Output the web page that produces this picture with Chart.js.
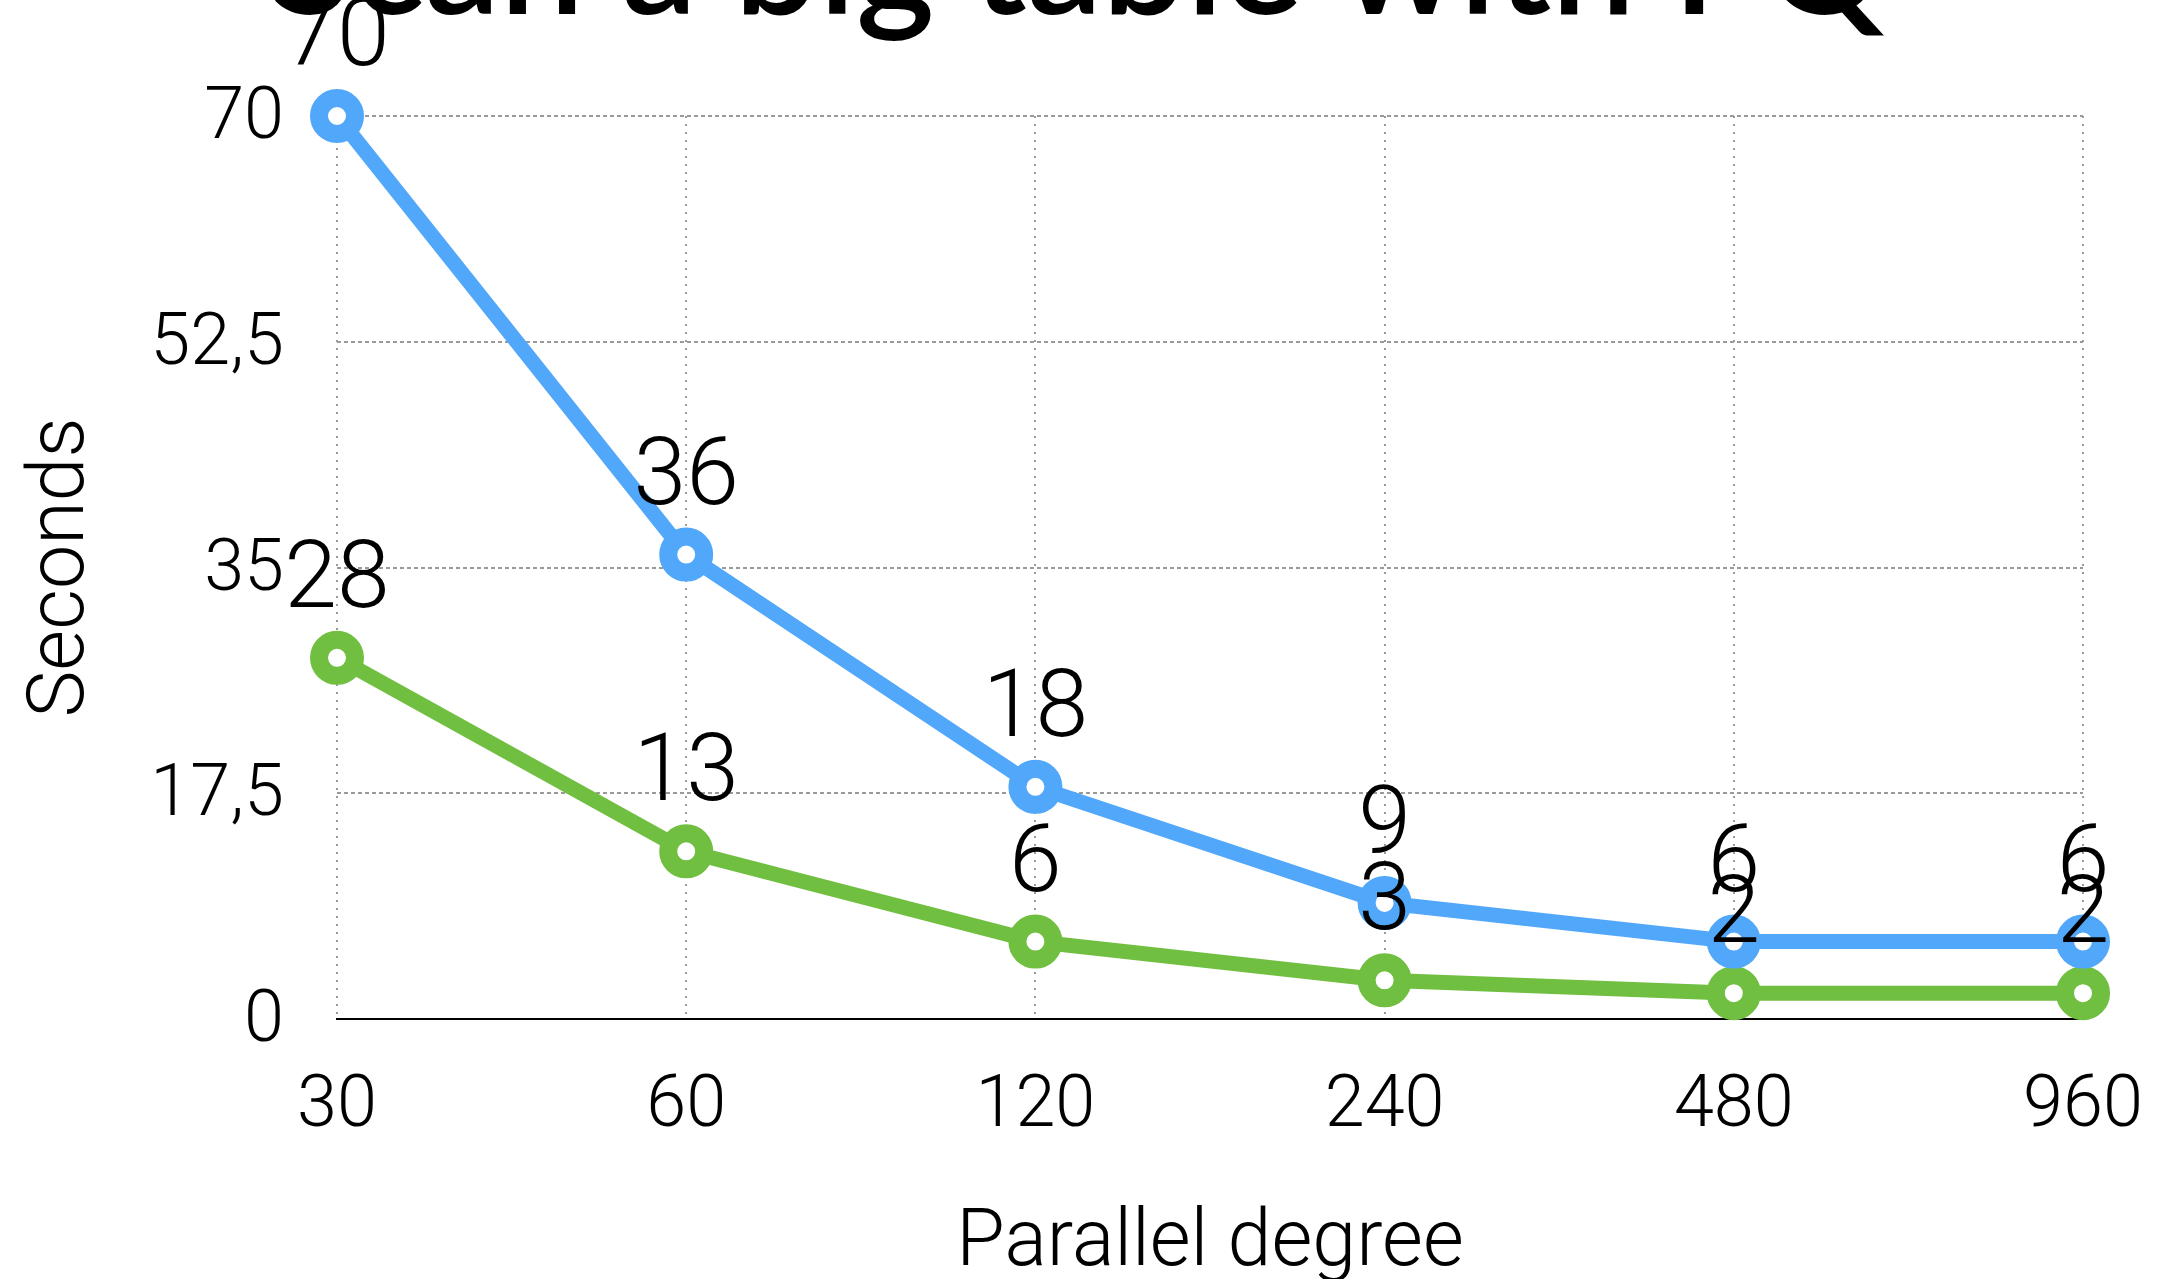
<!DOCTYPE html>
<html>
<head>
<meta charset="utf-8">
<script src="https://cdn.jsdelivr.net/npm/chart.js@4/dist/chart.umd.min.js"></script>
<style>
  html, body { margin: 0; padding: 0; background: #ffffff; }
  #wrap { width: 2163px; height: 1279px; position: relative; overflow: hidden; }
</style>
</head>
<body>
<div id="wrap"><canvas id="chart" width="2163" height="1279"></canvas></div>
<script>
// Parallel degree on the x axis, elapsed seconds on the y axis
const degrees = ['30', '60', '120', '240', '480', '960'];
const secondsBlue = [70, 36, 18, 9, 6, 6];
const secondsGreen = [28, 13, 6, 3, 2, 2];
const yTickValues = [0, 17.5, 35, 52.5, 70];
const chartTitle = 'Scan a big table with PQ';
const xAxisTitle = 'Parallel degree';
const yAxisTitle = 'Seconds';

const BLUE = '#51A7F9';
const GREEN = '#70BF41';
const GRID = '#9a9a9a';
const FONT = 'Roboto';

// Value printed above each point
const valueLabels = {
  id: 'valueLabels',
  afterDatasetsDraw(chart) {
    const ctx = chart.ctx;
    ctx.save();
    ctx.font = '300 95px ' + FONT;
    ctx.fillStyle = '#000000';
    ctx.textAlign = 'center';
    ctx.textBaseline = 'alphabetic';
    chart.data.datasets.forEach((ds, di) => {
      const meta = chart.getDatasetMeta(di);
      meta.data.forEach((pt, i) => {
        ctx.fillText(String(ds.data[i]), pt.x, pt.y - 51);
      });
    });
    ctx.restore();
  }
};

// Slide title, running off the top edge
const headline = {
  id: 'headline',
  afterDraw(chart) {
    const ctx = chart.ctx;
    ctx.save();
    ctx.font = '600 150px Lato';
    ctx.fillStyle = '#000000';
    ctx.textAlign = 'center';
    ctx.textBaseline = 'alphabetic';
    ctx.fillText(chartTitle, 1078, 14);
    ctx.restore();
  }
};

new Chart(document.getElementById('chart'), {
  type: 'line',
  data: {
    labels: degrees,
    datasets: [
      {
        data: secondsBlue,
        borderColor: BLUE,
        borderWidth: 15,
        pointRadius: 18,
        pointBorderWidth: 18,
        pointBackgroundColor: '#ffffff',
        pointBorderColor: BLUE,
        tension: 0,
        clip: false
      },
      {
        data: secondsGreen,
        borderColor: GREEN,
        borderWidth: 15,
        pointRadius: 18,
        pointBorderWidth: 18,
        pointBackgroundColor: '#ffffff',
        pointBorderColor: GREEN,
        tension: 0,
        clip: false
      }
    ]
  },
  options: {
    responsive: false,
    animation: false,
    devicePixelRatio: 1,
    layout: { padding: { left: 0, right: 80, top: 116, bottom: 0 } },
    plugins: {
      legend: { display: false },
      tooltip: { enabled: false },
      title: { display: false }
    },
    scales: {
      x: {
        type: 'category',
        offset: false,
        grid: { color: GRID, lineWidth: 2, drawTicks: false },
        border: { display: true, color: '#000000', width: 2, dash: [2, 6] },
        ticks: {
          color: '#000000',
          font: { family: FONT, size: 72, weight: 300 },
          padding: 46,
          maxRotation: 0,
          autoSkip: false
        },
        title: {
          display: true,
          text: xAxisTitle,
          color: '#000000',
          font: { family: FONT, size: 79, weight: 300, lineHeight: 0.85 },
          padding: { top: 0, bottom: 0 }
        },
        afterFit(scale) {
          scale.height = 260;
          scale.paddingLeft = 0;
          scale.paddingRight = 0;
        }
      },
      y: {
        min: 0,
        max: 70,
        grid: {
          color: (c) => (c.tick && c.tick.value === 0 ? 'rgba(0,0,0,0)' : GRID),
          lineWidth: 2,
          drawTicks: false
        },
        border: { display: false, dash: [4, 3] },
        afterBuildTicks(scale) { scale.ticks = yTickValues.map((v) => ({ value: v })); },
        ticks: {
          color: '#000000',
          font: { family: FONT, size: 72, weight: 300 },
          padding: 53,
          labelOffset: 4,
          callback: (v) => String(v).replace('.', ',')
        },
        title: {
          display: true,
          text: yAxisTitle,
          color: '#000000',
          font: { family: FONT, size: 79, weight: 300 },
          padding: { top: 16, bottom: 0 }
        },
        afterFit(scale) {
          scale.width = 337;
          scale.paddingTop = 0;
          scale.paddingBottom = 0;
        }
      }
    }
  },
  plugins: [valueLabels, headline]
});
</script>
</body>
</html>
